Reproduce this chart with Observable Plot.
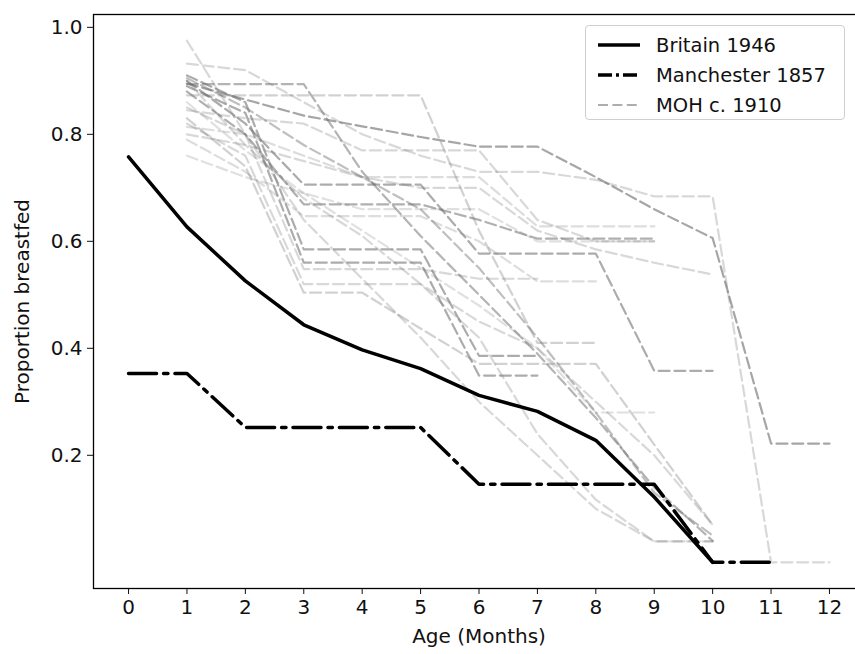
<!DOCTYPE html>
<html>
<head>
<meta charset="utf-8">
<script src="https://cdn.jsdelivr.net/npm/d3@7"></script>
<script src="https://cdn.jsdelivr.net/npm/@observablehq/plot@0.6"></script>
<style>
  body { margin: 0; background: white; font-family: "DejaVu Sans", sans-serif; }
  #wrap { position: relative; width: 855px; height: 654px; overflow: hidden; }
  #wrap svg { overflow: hidden; }
  #legend { position: absolute; left: 585px; top: 25px; width: 260px; height: 95px;
    border: 1px solid #cfcfcf; border-radius: 4px; background: rgba(255,255,255,0.85);
    box-sizing: border-box; }
  .row { position: absolute; left: 12px; height: 24px; display: flex; align-items: center; font-size: 19.5px; color: #111; white-space: nowrap; }
  .row svg { margin-right: 16px; }
</style>
</head>
<body>
<div id="wrap"></div>
<script>
// ---- data ----
const months = d3.range(0, 13);
const yTicks = [0.2, 0.4, 0.6, 0.8, 1.0];
const britain1946 = [0.758, 0.627, 0.526, 0.444, 0.397, 0.362, 0.312, 0.282, 0.228, 0.122, 0.0];
const manchester1857 = [0.353, 0.353, 0.252, 0.252, 0.252, 0.252, 0.146, 0.146, 0.146, 0.146, 0.0, 0.0];
// MOH c. 1910 series: values for months 1..12 (null = no data)
const moh01 = [0.895, 0.865, 0.835, 0.815, 0.795, 0.777, 0.777, 0.72, 0.66, 0.606, 0.222, 0.222];
const moh02 = [0.894, 0.894, 0.894, 0.73, 0.61, 0.50, 0.39, 0.27, 0.14, 0.04];
const moh03 = [0.90, 0.82, 0.706, 0.706, 0.706, 0.577, 0.577, 0.577, 0.358, 0.358];
const moh04 = [0.88, 0.80, 0.669, 0.669, 0.669, 0.64, 0.605, 0.605, 0.605];
const moh05 = [0.91, 0.86, 0.585, 0.585, 0.585, 0.386, 0.386];
const moh06 = [0.89, 0.84, 0.56, 0.56, 0.56, 0.349, 0.349];
const moh07 = [0.905, 0.85, 0.78, 0.72, 0.66, 0.55, 0.42, 0.28, 0.13, 0.05];
const moh08 = [0.975, 0.80, 0.64, 0.53, 0.42, 0.30, 0.20, 0.10, 0.039, 0.039];
const moh09 = [0.932, 0.92, 0.86, 0.80, 0.76, 0.73, 0.73, 0.715, 0.684, 0.684, 0.0, 0.0];
const moh10 = [0.873, 0.873, 0.873, 0.873, 0.873, 0.62, 0.41, 0.41];
const moh11 = [0.845, 0.83, 0.82, 0.77, 0.77, 0.77, 0.64, 0.60, 0.60];
const moh12 = [0.814, 0.80, 0.76, 0.72, 0.72, 0.72, 0.628, 0.628, 0.628];
const moh13 = [0.80, 0.78, 0.75, 0.72, 0.70, 0.70, 0.62, 0.585, 0.56, 0.538];
const moh14 = [0.76, 0.72, 0.69, 0.66, 0.66, 0.66, 0.60, 0.60, 0.60];
const moh15 = [0.85, 0.80, 0.548, 0.548, 0.548, 0.53, 0.53];
const moh16 = [0.82, 0.76, 0.52, 0.52, 0.52, 0.45, 0.40, 0.30, 0.20, 0.07];
const moh17 = [0.83, 0.74, 0.504, 0.504, 0.437, 0.371, 0.371, 0.371, 0.22, 0.07];
const moh18 = [0.90, 0.78, 0.68, 0.61, 0.52, 0.42, 0.24, 0.117, 0.039, 0.039];
const moh19 = [0.86, 0.77, 0.69, 0.62, 0.55, 0.48, 0.40, 0.28, 0.28];
const moh20 = [0.79, 0.73, 0.647, 0.647, 0.647, 0.60, 0.525, 0.525];
const mohSeries = [moh01, moh02, moh03, moh04, moh05, moh06, moh07, moh08, moh09, moh10,
                   moh11, moh12, moh13, moh14, moh15, moh16, moh17, moh18, moh19, moh20];
const mohOpacity = [0.62, 0.52, 0.58, 0.55, 0.58, 0.58, 0.45, 0.27, 0.27, 0.32,
                    0.27, 0.24, 0.27, 0.22, 0.27, 0.27, 0.32, 0.27, 0.22, 0.24];

// ---- build tables ----
const toRows = (arr, start) => arr.map((v, i) => ({month: start + i, value: v})).filter(d => d.value != null);
const britainRows = toRows(britain1946, 0);
const manchesterRows = toRows(manchester1857, 0);

const mohMarks = mohSeries.map((s, i) =>
  Plot.line(toRows(s, 1), {x: "month", y: "value", stroke: "#707070", strokeOpacity: mohOpacity[i],
    strokeWidth: 2.2, strokeDasharray: "11,4.8"}));

const chart = Plot.plot({
  width: 855,
  height: 654,
  marginLeft: 93,
  marginTop: 14,
  marginBottom: 66,
  marginRight: -9,
  style: {fontFamily: "DejaVu Sans, sans-serif", fontSize: "20px", color: "#111", background: "white"},
  x: {domain: [-0.6, 12.6], ticks: months, tickFormat: d => String(d), tickSize: 6, tickPadding: 5,
      label: "Age (Months)", labelAnchor: "center", labelArrow: "none", labelOffset: 54},
  y: {domain: [-0.049, 1.024], ticks: yTicks, tickFormat: d3.format(".1f"), tickSize: 6, tickPadding: 5,
      label: "Proportion breastfed", labelAnchor: "center", labelArrow: "none", labelOffset: 79},
  marks: [
    ...mohMarks,
    Plot.line(manchesterRows, {x: "month", y: "value", stroke: "black", strokeWidth: 3.5,
      strokeDasharray: "28,7,4.4,7"}),
    Plot.line(britainRows, {x: "month", y: "value", stroke: "black", strokeWidth: 3.5}),
    Plot.frame({stroke: "black", strokeWidth: 1.3})
  ]
});
document.getElementById("wrap").appendChild(chart);

// ---- legend ----
const legendItems = [
  {label: "Britain 1946", stroke: "black", width: 3.5, dash: null, opacity: 1},
  {label: "Manchester 1857", stroke: "black", width: 3.5, dash: "14,4,3,4", opacity: 1},
  {label: "MOH c. 1910", stroke: "#9a9a9a", width: 2.2, dash: "10,4.4", opacity: 0.8}
];
const legend = document.createElement("div");
legend.id = "legend";
legendItems.forEach((it, i) => {
  const row = document.createElement("div");
  row.className = "row";
  row.style.top = (7 + i * 30) + "px";
  row.innerHTML = `<svg width="42" height="10"><line x1="0" x2="42" y1="5" y2="5" stroke="${it.stroke}"
    stroke-width="${it.width}" stroke-opacity="${it.opacity}" ${it.dash ? `stroke-dasharray="${it.dash}"` : ""}/></svg><span>${it.label}</span>`;
  legend.appendChild(row);
});
document.getElementById("wrap").appendChild(legend);
</script>
</body>
</html>
